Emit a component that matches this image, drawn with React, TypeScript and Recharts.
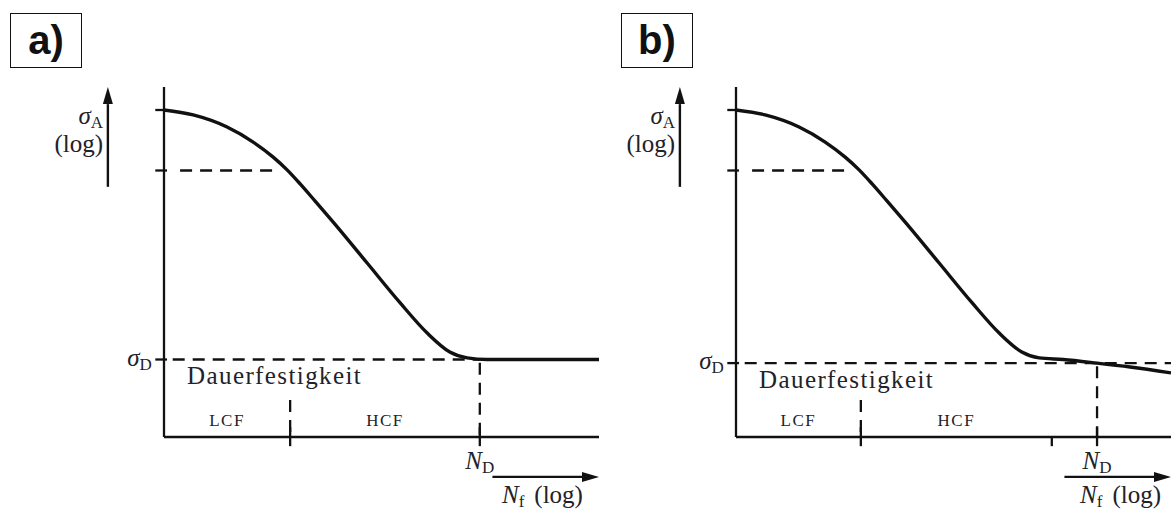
import { Line, LineChart, ReferenceDot, ReferenceLine, XAxis, YAxis } from 'recharts';

// S-N curves on log-log axes, arbitrary units: x = log N (0..10), y = log σA (0..10)
const logN_a = [0, 0.67, 1.45, 2.05, 2.51, 2.83, 3.13, 3.47, 3.89, 4.67, 5.43, 6.05, 6.57, 6.97, 7.43, 10];
const logS_a = [10, 9.85, 9.48, 9.02, 8.56, 8.17, 7.74, 7.22, 6.57, 5.32, 4.1, 3.18, 2.6, 2.42, 2.37, 2.37];

const logN_b = [0, 0.67, 1.45, 2.05, 2.51, 2.83, 3.13, 3.47, 3.89, 4.67, 5.43, 6.05, 6.57, 6.97, 7.52, 8.3, 9.06, 10];
const logS_b = [10, 9.85, 9.48, 9.02, 8.56, 8.17, 7.74, 7.22, 6.57, 5.32, 4.1, 3.18, 2.6, 2.42, 2.37, 2.26, 2.14, 1.96];

// per panel: a), b)
const panelNames = ['a)', 'b)'];
const kneeLevel = [8.15, 8.15];
const sigmaD = [2.37, 2.26];
const lcfLimit = [2.9, 2.87];
const hcfLimit = [7.26, 7.26];
const nD = [7.26, 8.3];

const serif = 'Liberation Serif';
const ink = '#222229';
const black = '#111';

type Anchor = 'start' | 'middle' | 'end';

// label drawn at a ReferenceDot position: italic symbol, upright subscript, optional tail
const tex = (
  main: string,
  sub = '',
  opts: { anchor?: Anchor; dy?: number; size?: number; tail?: string; italic?: boolean; spacing?: number } = {},
) => ({
  content: ({ viewBox }: any) => (
    <text
      x={viewBox.x}
      y={viewBox.y + (opts.dy ?? 0)}
      textAnchor={opts.anchor ?? 'start'}
      fontFamily={serif}
      fontSize={opts.size ?? 25}
      letterSpacing={opts.spacing ?? 0}
      fill={ink}
    >
      <tspan fontStyle={opts.italic === false ? 'normal' : 'italic'}>{main}</tspan>
      {sub && (
        <tspan fontSize={17} dy={4}>
          {sub}
        </tspan>
      )}
      {opts.tail && (
        <tspan dx={10} dy={sub ? -4 : 0}>
          {opts.tail}
        </tspan>
      )}
    </text>
  ),
});

// line with a filled arrow head at the second point
const arrowShape = (p: any) => {
  const { x1, y1, x2, y2 } = p;
  const len = Math.hypot(x2 - x1, y2 - y1) || 1;
  const ux = (x2 - x1) / len;
  const uy = (y2 - y1) / len;
  const head = 17;
  const half = 5;
  const bx = x2 - ux * head;
  const by = y2 - uy * head;
  return (
    <g>
      <line x1={x1} y1={y1} x2={bx} y2={by} stroke={black} strokeWidth={2.4} />
      <polygon
        points={`${x2},${y2} ${bx - uy * half},${by + ux * half} ${bx + uy * half},${by - ux * half}`}
        fill={black}
      />
    </g>
  );
};

const solid = { stroke: black, strokeWidth: 2.3, ifOverflow: 'visible' as const };
const dashed = { ...solid, strokeDasharray: '12 8' };
const dot = { r: 0, fill: 'none', stroke: 'none', ifOverflow: 'visible' as const };

interface PanelProps {
  idx: number;
  logN: number[];
  logS: number[];
  left: number;
  width: number;
  marginLeft: number;
  marginRight: number;
  nfStart: number;
  oldTick?: number;
}

function Panel({ idx, logN, logS, left, width, marginLeft, marginRight, nfStart, oldTick }: PanelProps) {
  const data = logN.map((n, i) => ({ n, s: logS[i] }));
  const sD = sigmaD[idx];
  const flatEnd = idx === 0 ? nD[idx] : 10;
  return (
    <div style={{ position: 'absolute', left, top: 0 }}>
      <LineChart
        width={width}
        height={511}
        data={data}
        margin={{ top: 110, right: marginRight, bottom: 74, left: marginLeft }}
      >
        <XAxis dataKey="n" type="number" domain={[0, 10]} hide />
        <YAxis type="number" domain={[0, 10]} hide />

        {/* axes */}
        <ReferenceLine {...solid} segment={[{ x: 0, y: 0 }, { x: 0, y: 10.7 }]} />
        <ReferenceLine {...solid} segment={[{ x: 0, y: 0 }, { x: 10, y: 0 }]} />
        <ReferenceLine {...solid} segment={[{ x: -1.29, y: 7.65 }, { x: -1.29, y: 10.7 }]} shape={arrowShape} />
        <ReferenceLine {...solid} segment={[{ x: 7.55, y: -1.22 }, { x: 10, y: -1.22 }]} shape={arrowShape} />

        {/* y ticks */}
        <ReferenceLine {...solid} segment={[{ x: -0.2, y: 10 }, { x: 0, y: 10 }]} />
        <ReferenceLine {...solid} segment={[{ x: -0.2, y: kneeLevel[idx] }, { x: 0.07, y: kneeLevel[idx] }]} />
        <ReferenceLine {...solid} segment={[{ x: -0.2, y: sD }, { x: 0.07, y: sD }]} />

        {/* guide lines */}
        <ReferenceLine {...dashed} segment={[{ x: 0.37, y: kneeLevel[idx] }, { x: 2.6, y: kneeLevel[idx] }]} />
        <ReferenceLine {...dashed} segment={[{ x: 0.2, y: sD }, { x: flatEnd, y: sD }]} />
        <ReferenceLine {...dashed} segment={[{ x: lcfLimit[idx], y: 1.13 }, { x: lcfLimit[idx], y: 0 }]} />
        <ReferenceLine {...solid} segment={[{ x: lcfLimit[idx], y: 0.3 }, { x: lcfLimit[idx], y: -0.28 }]} />
        <ReferenceLine {...dashed} segment={[{ x: nD[idx], y: sD - 0.1 }, { x: nD[idx], y: 0 }]} />
        <ReferenceLine {...solid} segment={[{ x: nD[idx], y: 0.3 }, { x: nD[idx], y: -0.28 }]} />
        {oldTick !== undefined && (
          <ReferenceLine {...solid} segment={[{ x: oldTick, y: 0 }, { x: oldTick, y: -0.28 }]} />
        )}

        <Line
          type="monotone"
          dataKey="s"
          stroke={black}
          strokeWidth={3.4}
          dot={false}
          isAnimationActive={false}
        />

        {/* labels */}
        <ReferenceDot {...dot} x={-1.4} y={9.57} label={tex('σ', 'A', { anchor: 'end' })} />
        <ReferenceDot {...dot} x={-1.4} y={8.72} label={tex('(log)', '', { anchor: 'end', italic: false })} />
        <ReferenceDot {...dot} x={-0.28} y={sD} label={tex('σ', 'D', { anchor: 'end', dy: 6 })} />
        <ReferenceDot
          {...dot}
          x={0.53}
          y={sD - 0.75}
          label={tex('Dauerfestigkeit', '', { italic: false, spacing: 1.4 })}
        />
        <ReferenceDot
          {...dot}
          x={lcfLimit[idx] / 2}
          y={0.34}
          label={tex('LCF', '', { anchor: 'middle', italic: false, size: 17, spacing: 1.5 })}
        />
        <ReferenceDot
          {...dot}
          x={(lcfLimit[idx] + hcfLimit[idx]) / 2}
          y={0.34}
          label={tex('HCF', '', { anchor: 'middle', italic: false, size: 17, spacing: 1.5 })}
        />
        <ReferenceDot {...dot} x={nD[idx]} y={-0.98} label={tex('N', 'D', { anchor: 'middle' })} />
        <ReferenceDot {...dot} x={nfStart} y={-2.02} label={tex('N', 'f', { tail: '(log)' })} />
      </LineChart>
    </div>
  );
}

function PanelTag({ text, left }: { text: string; left: number }) {
  return (
    <div
      style={{
        position: 'absolute',
        left,
        top: 13,
        width: 72,
        height: 55,
        boxSizing: 'border-box',
        border: `1.5px solid ${black}`,
        fontFamily: '"Liberation Sans", Arial, sans-serif',
        fontWeight: 700,
        fontSize: 40,
        lineHeight: '52px',
        textAlign: 'center',
        color: black,
      }}
    >
      {text}
    </div>
  );
}

export default function App() {
  return (
    <div
      style={{
        position: 'absolute',
        left: 0,
        top: 0,
        width: 1171,
        height: 511,
        overflow: 'hidden',
        background: '#fff',
      }}
    >
      <Panel idx={0} logN={logN_a} logS={logS_a} left={0} width={610} marginLeft={164} marginRight={11} nfStart={7.77} />
      <Panel
        idx={1}
        logN={logN_b}
        logS={logS_b}
        left={610}
        width={561}
        marginLeft={126}
        marginRight={0}
        nfStart={7.91}
        oldTick={hcfLimit[1]}
      />
      <PanelTag text={panelNames[0]} left={10} />
      <PanelTag text={panelNames[1]} left={621} />
    </div>
  );
}
